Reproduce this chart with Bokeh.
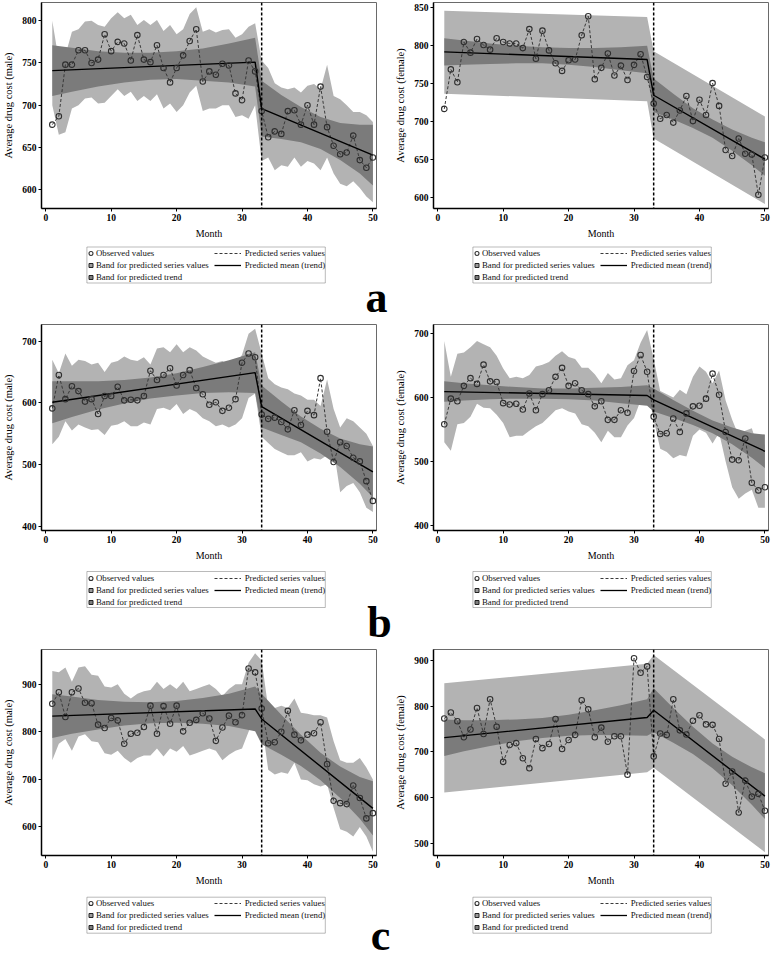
import numpy as np
from bokeh.plotting import figure
from bokeh.models import Range1d, Span, Legend, LegendItem, FixedTicker, BoxAnnotation
from bokeh.layouts import row, column
from bokeh.core.properties import value
from bokeh.embed import file_html
from bokeh.resources import INLINE

months = list(range(1, 51))
x_ticks = [0, 10, 20, 30, 40, 50]
pre_m = [1, 4, 8, 12, 16, 20, 24, 28, 32]
post_m = [33, 36, 39, 42, 45, 48, 50]
trend_m = [1, 32, 33, 50]
smooth_m = [1, 32, 33, 50]
letters = ["a", "b", "c"]
legend_col1 = ["Observed values", "Band for predicted series values", "Band for predicted trend"]
legend_col2 = ["Predicted series values", "Predicted mean (trend)"]

# ---------------- panel a, male ----------------
a_m_obs = [677, 687, 748, 748, 765, 765, 750, 754, 784, 764, 775, 773, 753, 783, 754, 751, 771, 744, 727, 744,
           759, 776, 790, 728, 740, 736, 749, 747, 714, 706, 753, 740, 693, 662, 669, 666, 693, 694, 677, 700,
           677, 722, 674, 652, 642, 644, 664, 635, 626, 638]
a_m_trend = [741, 751, 696, 641]
a_m_in_hi = [771, 768, 764, 762, 762, 764, 767, 773, 780, 729, 712, 698, 686, 679, 677, 677]
a_m_in_lo = [711, 716, 722, 727, 730, 731, 729, 727, 722, 663, 660, 656, 648, 635, 619, 605]
a_m_out_hi = [800, 753, 759, 787, 790, 799, 800, 795, 793, 803, 810, 803, 807, 795, 801, 795, 801, 788, 795, 784,
              790, 808, 816, 787, 790, 786, 789, 790, 780, 784, 793, 797, 753, 744, 726, 721, 719, 721, 715, 723,
              725, 719, 748, 711, 707, 700, 692, 692, 688, 680]
a_m_out_lo = [700, 665, 668, 696, 700, 708, 709, 702, 703, 711, 719, 711, 716, 705, 711, 705, 713, 696, 702, 692,
              700, 715, 723, 693, 696, 696, 700, 700, 686, 688, 684, 700, 634, 638, 623, 629, 627, 638, 627, 634,
              631, 623, 638, 619, 607, 604, 610, 602, 592, 585]

# ---------------- panel a, female ----------------
a_f_obs = [717, 769, 752, 805, 791, 809, 801, 795, 810, 805, 803, 803, 797, 822, 783, 820, 794, 777, 767, 781,
           782, 814, 839, 756, 771, 790, 761, 774, 755, 775, 789, 759, 724, 704, 709, 699, 715, 734, 701, 729,
           709, 751, 721, 663, 655, 678, 658, 657, 604, 653]
a_f_trend = [792, 782, 735, 651]
a_f_in_hi = [810, 807, 803, 800, 798, 797, 797, 798, 800, 757, 737, 718, 703, 690, 679, 673]
a_f_in_lo = [774, 775, 776, 777, 777, 775, 772, 768, 764, 713, 703, 692, 679, 662, 643, 629]
a_f_out_hi = [846, 838, 793, 707]
a_f_out_lo = [737, 727, 678, 592]

# ---------------- panel b, male ----------------
b_m_obs = [591, 645, 606, 627, 619, 602, 606, 582, 611, 611, 626, 604, 605, 604, 611, 652, 637, 645, 656, 628,
           645, 653, 624, 614, 597, 601, 587, 592, 606, 665, 680, 674, 581, 574, 576, 569, 557, 588, 564, 587,
           580, 640, 553, 504, 536, 530, 511, 505, 473, 441]
b_m_trend = [601, 649, 594, 488]
b_m_in_hi = [635, 635, 635, 637, 641, 648, 658, 669, 682, 628, 602, 578, 558, 542, 533, 529]
b_m_in_lo = [567, 577, 589, 599, 607, 612, 616, 617, 616, 560, 548, 536, 518, 496, 469, 447]
b_m_out_hi = [670, 648, 680, 660, 670, 668, 662, 665, 650, 665, 668, 675, 670, 668, 674, 662, 688, 690, 682, 695,
              682, 690, 685, 675, 670, 665, 668, 660, 660, 678, 712, 720, 680, 640, 630, 625, 622, 615, 612, 605,
              605, 595, 638, 590, 560, 575, 570, 560, 550, 530]
b_m_out_lo = [533, 545, 570, 555, 565, 560, 556, 557, 548, 563, 565, 570, 562, 562, 568, 565, 590, 592, 588, 598,
              582, 590, 585, 575, 570, 562, 565, 560, 565, 575, 608, 615, 545, 535, 525, 520, 515, 515, 520, 505,
              510, 508, 515, 525, 455, 465, 470, 455, 430, 423]

# ---------------- panel b, female ----------------
b_f_obs = [558, 598, 594, 618, 630, 621, 651, 625, 624, 591, 589, 590, 581, 606, 580, 605, 611, 632, 646, 618,
           622, 611, 605, 586, 594, 565, 565, 580, 576, 641, 666, 640, 570, 543, 544, 567, 546, 575, 586, 587,
           598, 637, 604, 546, 503, 502, 536, 467, 455, 460]
b_f_trend = [609, 603, 596, 516]
b_f_in_hi = [625, 622, 619, 616, 614, 614, 615, 616, 619, 614, 596, 579, 564, 553, 544, 542]
b_f_in_lo = [593, 595, 597, 598, 598, 597, 595, 591, 587, 578, 568, 557, 544, 527, 506, 490]
b_f_out_hi = [688, 632, 668, 670, 678, 688, 683, 678, 665, 645, 630, 632, 630, 635, 648, 651, 655, 665, 672, 663,
              660, 646, 646, 636, 622, 638, 628, 630, 650, 658, 685, 705, 660, 610, 605, 600, 612, 605, 632, 648,
              640, 622, 642, 595, 565, 540, 548, 552, 520, 527]
b_f_out_lo = [530, 517, 558, 560, 570, 590, 584, 583, 573, 560, 538, 540, 540, 548, 555, 560, 570, 580, 583, 578,
              575, 558, 555, 545, 530, 548, 538, 538, 556, 568, 595, 615, 565, 520, 515, 505, 510, 508, 540, 550,
              545, 528, 545, 500, 460, 442, 450, 456, 428, 428]

# ---------------- panel c, male ----------------
c_m_obs = [859, 883, 831, 883, 891, 861, 860, 815, 808, 829, 824, 775, 796, 798, 810, 855, 796, 854, 817, 855,
           801, 819, 825, 839, 828, 781, 809, 834, 820, 835, 933, 925, 849, 776, 778, 800, 844, 794, 782, 794,
           797, 820, 732, 655, 650, 648, 687, 661, 618, 629]
c_m_trend = [833, 848, 827, 639]
c_m_in_hi = [879, 874, 867, 863, 862, 865, 871, 880, 895, 880, 836, 794, 756, 727, 705, 696]
c_m_in_lo = [787, 796, 805, 813, 818, 819, 817, 812, 801, 774, 752, 728, 698, 661, 617, 582]
c_m_out_hi = [928, 925, 935, 905, 935, 938, 920, 918, 895, 893, 900, 880, 870, 880, 885, 888, 905, 890, 900, 890,
              905, 885, 890, 895, 900, 890, 875, 890, 900, 900, 945, 965, 950, 850, 850, 855, 850, 870, 840, 838,
              835, 835, 830, 780, 740, 735, 735, 745, 725, 700]
c_m_out_lo = [740, 775, 785, 760, 790, 795, 780, 778, 755, 752, 760, 745, 735, 745, 750, 750, 765, 748, 765, 758,
              770, 750, 755, 760, 765, 760, 740, 752, 760, 765, 800, 830, 820, 720, 710, 715, 712, 735, 700, 698,
              690, 685, 690, 640, 595, 590, 580, 600, 580, 548]

# ---------------- panel c, female ----------------
c_f_obs = [773, 786, 767, 732, 749, 796, 739, 815, 755, 678, 715, 719, 686, 664, 728, 708, 717, 772, 706, 726,
           737, 813, 793, 732, 753, 722, 734, 734, 650, 905, 873, 887, 690, 740, 737, 815, 747, 738, 768, 780,
           760, 759, 728, 630, 657, 567, 637, 602, 608, 571]
c_f_trend = [731, 775, 791, 603]
c_f_in_hi = [771, 769, 769, 771, 774, 781, 791, 802, 815, 839, 796, 755, 718, 689, 666, 653]
c_f_in_lo = [691, 701, 713, 723, 730, 735, 737, 736, 735, 743, 720, 695, 664, 627, 584, 553]
c_f_out_hi = [850, 893, 912, 727]
c_f_out_lo = [611, 655, 665, 480]

SERIF = "Liberation Serif"
OUTER = "#b3b3b3"
INNER = "#7b7b7b"
OBS_LINE = "#3a3a3a"
FRAME_H = 206


def panel(obs, trend, in_hi, in_lo, out_m, out_hi, out_lo, yr, yticks, ylab, left):
    p = figure(frame_width=335, frame_height=FRAME_H,
               x_range=Range1d(-0.65, 50.55), y_range=Range1d(*yr),
               output_backend="svg", toolbar_location=None,
               min_border_left=36, min_border_right=16 if left else 4,
               min_border_top=2, min_border_bottom=0)
    p.grid.visible = False
    p.outline_line_color = "#6a6a6a"
    p.outline_line_width = 1
    p.background_fill_color = "white"
    p.border_fill_color = "white"

    p.varea(x=out_m, y1=out_lo, y2=out_hi, fill_color=OUTER)
    p.varea(x=pre_m + post_m, y1=in_lo, y2=in_hi, fill_color=INNER)
    p.line(months, obs, line_color=OBS_LINE, line_width=1, line_dash="3 2")
    p.line(trend_m, trend, line_color="black", line_width=1.4)
    p.add_layout(Span(location=33, dimension="height", line_color="black",
                      line_width=1.5, line_dash="3 2"))
    p.scatter(months, obs, marker="circle", size=5.5, fill_color=None,
              line_color="#2f2f2f", line_width=1.1)

    for ax in (p.xaxis[0], p.yaxis[0]):
        ax.axis_line_color = "black"
        ax.axis_line_width = 1.5
        ax.major_tick_line_color = "black"
        ax.major_tick_in = 0
        ax.major_tick_out = 3
        ax.minor_tick_line_color = None
        ax.major_label_text_font = SERIF
        ax.major_label_text_font_style = "bold"
        ax.major_label_text_font_size = "9.5px"
        ax.major_label_text_color = "black"
        ax.axis_label_text_font = SERIF
        ax.axis_label_text_font_style = "normal"
        ax.axis_label_text_color = "black"
        ax.major_label_standoff = 2
    p.xaxis.ticker = FixedTicker(ticks=x_ticks)
    p.yaxis.ticker = FixedTicker(ticks=yticks)
    p.xaxis.axis_label = "Month"
    p.xaxis.axis_label_text_font_size = "10px"
    p.xaxis.axis_label_standoff = 4
    p.yaxis.axis_label = ylab
    p.yaxis.axis_label_text_font_size = "10.5px"
    p.yaxis.axis_label_standoff = 5
    return p


def legend_strip(letter, letter_x, height, box_bottom, letter_y):
    f = figure(width=762, height=height, x_range=Range1d(0, 762), y_range=Range1d(0, height),
               output_backend="svg", toolbar_location=None, min_border=0,
               x_axis_location=None, y_axis_location=None)
    f.grid.visible = False
    f.outline_line_color = None
    f.background_fill_color = "white"
    f.border_fill_color = "white"
    nan = np.array([np.nan])
    k_obs = f.scatter(x=nan, y=nan, marker="circle", size=5, fill_color=None,
                      line_color="#2f2f2f", line_width=1.1)
    k_out = f.scatter(x=nan, y=nan, marker="square", size=6, fill_color="#9c9c9c",
                      line_color="#222222", line_width=1)
    k_in = f.scatter(x=nan, y=nan, marker="square", size=6, fill_color="#7e7e7e",
                     line_color="#222222", line_width=1)
    k_pred = f.line(x=nan, y=nan, line_color=OBS_LINE, line_width=1, line_dash="3 2")
    k_trend = f.line(x=nan, y=nan, line_color="black", line_width=1.3)
    common = dict(orientation="vertical", glyph_height=10, label_height=10, spacing=2,
                  padding=0, margin=0, label_text_font=SERIF, label_text_font_size="8.8px",
                  label_text_color="#111111", border_line_color=None, background_fill_alpha=0)
    for bx in (86.4, 472.4):
        f.add_layout(BoxAnnotation(left=bx, right=bx + 238.4, bottom=box_bottom, top=box_bottom + 36,
                                   fill_color="white", fill_alpha=1,
                                   line_color="#1a1a1a", line_width=1))
        items1 = [LegendItem(label=lab, renderers=[r])
                  for lab, r in zip(legend_col1, [k_obs, k_out, k_in])]
        items2 = [LegendItem(label=lab, renderers=[r])
                  for lab, r in zip(legend_col2, [k_pred, k_trend])]
        f.add_layout(Legend(items=items1, location=(bx - 1.5, box_bottom + 0.5),
                            glyph_width=11, label_standoff=0, **common))
        f.add_layout(Legend(items=items2, location=(bx + 127.3, box_bottom + 0.5 + 12),
                            glyph_width=27, label_standoff=4, **common))
    f.text(x=[letter_x], y=[letter_y], text=[letter], text_align="center", text_baseline="middle",
           text_font=value(SERIF), text_font_style="bold", text_font_size="44px", text_color="black")
    return f


pa1 = panel(a_m_obs, a_m_trend, a_m_in_hi, a_m_in_lo, months, a_m_out_hi, a_m_out_lo,
            (577.7, 821.6), [600, 650, 700, 750, 800], "Average drug cost (male)", True)
pa2 = panel(a_f_obs, a_f_trend, a_f_in_hi, a_f_in_lo, smooth_m, a_f_out_hi, a_f_out_lo,
            (586, 857), [600, 650, 700, 750, 800, 850], "Average drug cost (female)", False)
pb1 = panel(b_m_obs, b_m_trend, b_m_in_hi, b_m_in_lo, months, b_m_out_hi, b_m_out_lo,
            (393, 727), [400, 500, 600, 700], "Average drug cost (male)", True)
pb2 = panel(b_f_obs, b_f_trend, b_f_in_hi, b_f_in_lo, months, b_f_out_hi, b_f_out_lo,
            (392.5, 713.6), [400, 500, 600, 700], "Average drug cost (female)", False)
pc1 = panel(c_m_obs, c_m_trend, c_m_in_hi, c_m_in_lo, months, c_m_out_hi, c_m_out_lo,
            (540, 973), [600, 700, 800, 900], "Average drug cost (male)", True)
pc2 = panel(c_f_obs, c_f_trend, c_f_in_hi, c_f_in_lo, smooth_m, c_f_out_hi, c_f_out_lo,
            (473, 924), [500, 600, 700, 800, 900], "Average drug cost (female)", False)

la = legend_strip(letters[0], 376, 81, 39.5, 25)
lb = legend_strip(letters[1], 379, 84, 40, 25)
lc = legend_strip(letters[2], 380, 72, 27.3, 25)

layout = column(row(pa1, pa2), la, row(pb1, pb2), lb, row(pc1, pc2), lc)
open("out.html", "w").write(file_html(layout, INLINE))
